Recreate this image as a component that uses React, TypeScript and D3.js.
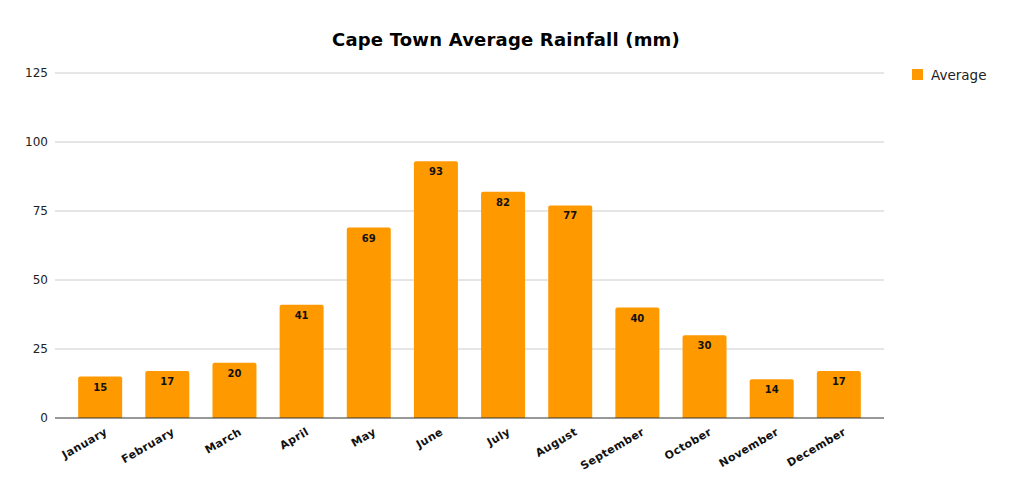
import * as d3 from 'd3'

const months = ['January', 'February', 'March', 'April', 'May', 'June', 'July', 'August', 'September', 'October', 'November', 'December']
const average = [15, 17, 20, 41, 69, 93, 82, 77, 40, 30, 14, 17]
const yTicks = [0, 25, 50, 75, 100, 125]

const W = 1013
const H = 491
const M = { top: 73, right: 129, bottom: 73, left: 55 }
const BAR = '#ff9900'
const FONT = 'DejaVu Sans, Verdana, sans-serif'

export default function App() {
  const x = d3.scaleBand<string>()
    .domain(months)
    .range([M.left, W - M.right])
    .paddingInner(0.345)
    .paddingOuter(0.345)

  const y = d3.scaleLinear()
    .domain([0, 125])
    .range([H - M.bottom, M.top])

  const bw = x.bandwidth()

  return (
    <svg width={W} height={H} style={{ position: 'absolute', left: 0, top: 0, display: 'block' }} fontFamily={FONT}>
      <rect width={W} height={H} fill="white" />

      <text x={506} y={46} textAnchor="middle" fontSize={18} fontWeight="bold" letterSpacing={0.2}>
        Cape Town Average Rainfall (mm)
      </text>

      {/* grid + y labels */}
      {yTicks.map(t => (
        <g key={t}>
          {t > 0 && <line x1={M.left} x2={W - M.right} y1={y(t)} y2={y(t)} stroke="#cccccc" strokeWidth={1} />}
          <text x={48} y={y(t)} dy="0.35em" textAnchor="end" fontSize={12} fill="#222">{t}</text>
        </g>
      ))}

      {/* bars */}
      {months.map((m, i) => {
        const x0 = x(m)!
        const top = y(average[i])
        const h = y(0) - top
        const r = 2
        const path = `M${x0},${y(0)} V${top + r} Q${x0},${top} ${x0 + r},${top} H${x0 + bw - r} Q${x0 + bw},${top} ${x0 + bw},${top + r} V${y(0)} Z`
        return (
          <g key={m}>
            <path d={h > 0 ? path : ''} fill={BAR} />
            <text x={x0 + bw / 2} y={top + 14} textAnchor="middle" fontSize={10} fontWeight="bold" fill="#111">
              {average[i]}
            </text>
          </g>
        )
      })}

      {/* baseline */}
      <line x1={M.left} x2={W - M.right} y1={y(0)} y2={y(0)} stroke="#333333" strokeWidth={1} />

      {/* x labels */}
      {months.map(m => {
        const cx = x(m)! + bw / 2 + 8
        const cy = y(0) + 16
        return (
          <text key={m} x={cx} y={cy} textAnchor="end" fontSize={11} fontWeight="bold" fill="#111" letterSpacing={0.4}
            transform={`rotate(-30 ${cx} ${cy})`}>
            {m}
          </text>
        )
      })}

      {/* legend */}
      <rect x={912} y={69} width={11} height={11} fill={BAR} />
      <text x={931} y={80} fontSize={13.5} fill="#222">Average</text>
    </svg>
  )
}
